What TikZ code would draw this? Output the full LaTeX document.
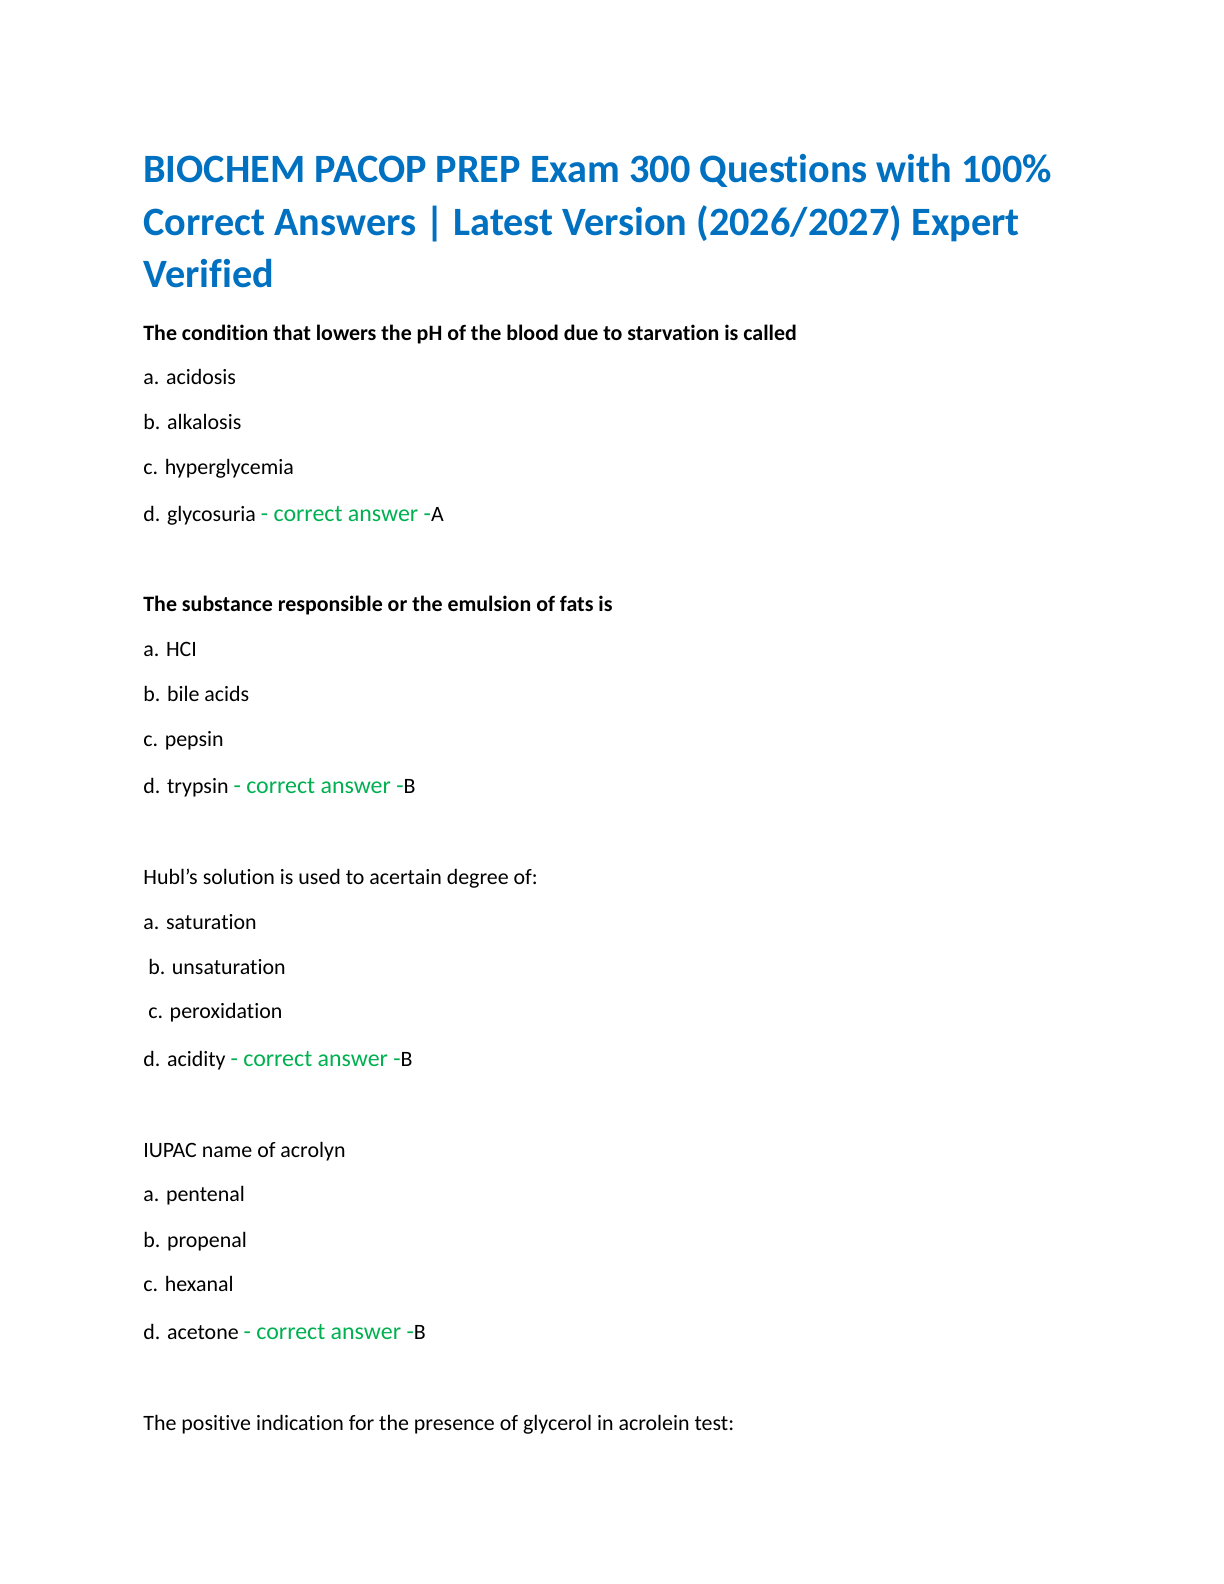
\documentclass[tikz,border=0pt]{standalone}
\usepackage{fontspec}
\setmainfont{Carlito}[Ligatures={NoCommon}]
\definecolor{titleblue}{RGB}{0,112,192}
\definecolor{ansgreen}{RGB}{0,176,80}
\newcommand{\ans}[1]{{\fontsize{12}{14}\selectfont\color{ansgreen}- correct answer -}#1}
\tikzset{line/.style={anchor=base west, inner sep=0pt, font=\fontsize{11}{13}\selectfont},
         head/.style={line, font=\fontsize{11}{13}\selectfont\bfseries},
         ttl/.style={anchor=base west, inner sep=0pt, text=titleblue, font=\fontsize{20.2}{24}\selectfont\bfseries}}
\begin{document}
\begin{tikzpicture}[x=0.5bp, y=-0.5bp]
   \useasboundingbox (0,0) rectangle (1224,1584);
   \def\lx{143}
   % title
   \node[ttl] (t1) at (\lx,182.4) {BIOCHEM PACOP PREP Exam 300 Questions with 100\%};
   \node[ttl] (t2) at (\lx,235) {Correct Answers | Latest Version (2026/2027) Expert};
   \node[ttl] (t3) at (\lx,287.5) {Verified};
   % question 1
   \node[head] (q1) at (\lx,340) {The condition that lowers the pH of the blood due to starvation is called};
   \node[line] (q1a) at (\lx,384.4) {a. acidosis};
   \node[line] (q1b) at (\lx,429.9) {b. alkalosis};
   \node[line] (q1c) at (\lx,474.4) {c. hyperglycemia};
   \node[line] (q1d) at (\lx,521.8) {d. glycosuria \ans{A}};
   % question 2
   \node[head] (q2) at (\lx,611.7) {The substance responsible or the emulsion of fats is};
   \node[line] (q2a) at (\lx,656.2) {a. HCI};
   \node[line] (q2b) at (\lx,701.7) {b. bile acids};
   \node[line] (q2c) at (\lx,746.1) {c. pepsin};
   \node[line] (q2d) at (\lx,793.6) {d. trypsin \ans{B}};
   % question 3
   \node[line] (q3) at (\lx,884.5) {Hubl{\char"27}s solution is used to acertain degree of:};
   \node[line] (q3a) at (\lx,929) {a. saturation};
   \node[line] (q3b) at (\lx,974.4) {\ b. unsaturation};
   \node[line] (q3c) at (\lx,1018.9) {\ c. peroxidation};
   \node[line] (q3d) at (\lx,1066.3) {d. acidity \ans{B}};
   % question 4
   \node[line] (q4) at (\lx,1157.3) {IUPAC name of acrolyn};
   \node[line] (q4a) at (\lx,1201.7) {a. pentenal};
   \node[line] (q4b) at (\lx,1247.2) {b. propenal};
   \node[line] (q4c) at (\lx,1291.6) {c. hexanal};
   \node[line] (q4d) at (\lx,1339.1) {d. acetone \ans{B}};
   % question 5
   \node[line] (q5) at (\lx,1430) {The positive indication for the presence of glycerol in acrolein test:};
\end{tikzpicture}
\end{document}
